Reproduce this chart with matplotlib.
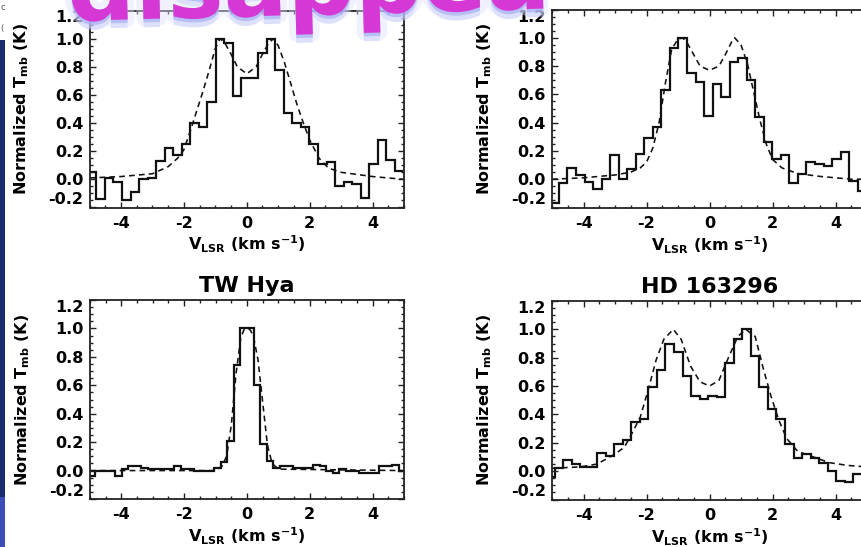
import numpy as np
import matplotlib
matplotlib.use("Agg")
import matplotlib.pyplot as plt
import matplotlib.patheffects as pe
from matplotlib.ticker import MultipleLocator, FormatStrFormatter
from matplotlib.patches import Rectangle

plt.rcParams.update({
    "font.family": ["DejaVu Sans"],
    "font.weight": "bold",
    "axes.unicode_minus": False,
    "mathtext.fontset": "custom",
    "mathtext.rm": "DejaVu Sans:bold",
    "mathtext.it": "DejaVu Sans:bold",
    "mathtext.bf": "DejaVu Sans:bold",
})

# ---------------- spectra (normalized T_mb per velocity channel) ----------------
# upper-left source
ul_first_edge = -5.051
ul_chan_width = 0.271
ul_values = [0.05, -0.14, 0.01, -0.02, -0.15, -0.09, 0.00, 0.01, 0.13, 0.22,
             0.17, 0.25, 0.40, 0.37, 0.55, 1.00, 0.97, 0.59, 0.72, 0.72,
             0.90, 1.00, 0.78, 0.47, 0.40, 0.37, 0.25, 0.11, 0.12, -0.05,
             -0.02, -0.03, -0.13, 0.11, 0.28, 0.14, 0.06]
ul_model_v = [-5.0, -4.0, -3.0, -2.5, -2.2, -2.0, -1.8, -1.6, -1.4, -1.2, -1.0,
              -0.85, -0.7, -0.5, -0.3, 0.0, 0.3, 0.5, 0.7, 0.85, 1.0, 1.2,
              1.4, 1.6, 1.8, 2.0, 2.3, 2.6, 3.0, 4.0, 5.0]
ul_model_t = [0.01, 0.02, 0.04, 0.09, 0.15, 0.21, 0.34, 0.48, 0.62, 0.77, 0.93,
              1.00, 0.97, 0.89, 0.80, 0.75, 0.80, 0.89, 0.97, 1.00, 0.95, 0.83,
              0.68, 0.53, 0.40, 0.28, 0.15, 0.08, 0.05, 0.02, 0.00]

# upper-right source
ur_first_edge = -5.051
ur_chan_width = 0.271
ur_values = [-0.17, -0.03, 0.08, 0.03, -0.02, -0.07, 0.00, 0.17, 0.00, 0.07,
             0.18, 0.29, 0.37, 0.63, 0.93, 1.00, 0.75, 0.69, 0.45, 0.67,
             0.58, 0.83, 0.86, 0.70, 0.44, 0.26, 0.14, 0.17, -0.03, 0.04,
             0.12, 0.11, 0.09, 0.14, 0.19, -0.01, -0.08]
ur_model_v = [-5.0, -4.0, -3.0, -2.5, -2.2, -2.0, -1.8, -1.6, -1.4, -1.2, -1.0,
              -0.85, -0.7, -0.5, -0.3, 0.0, 0.3, 0.5, 0.7, 0.8, 1.0, 1.2,
              1.4, 1.6, 1.8, 2.0, 2.3, 2.8, 3.5, 4.5, 5.0]
ur_model_t = [0.00, 0.01, 0.03, 0.05, 0.08, 0.12, 0.22, 0.40, 0.68, 0.92, 0.99,
              1.00, 0.96, 0.88, 0.80, 0.77, 0.80, 0.88, 0.97, 1.00, 0.95, 0.82,
              0.62, 0.42, 0.25, 0.14, 0.08, 0.04, 0.02, 0.00, 0.00]

# TW Hya
tw_first_edge = -5.04
tw_chan_width = 0.21
tw_values = [-0.04, 0.00, 0.00, 0.00, -0.04, 0.01, 0.03, 0.03, 0.02, 0.01,
             0.01, 0.01, 0.01, 0.03, 0.01, 0.01, 0.00, 0.00, 0.00, 0.02,
             0.06, 0.21, 0.74, 1.00, 1.00, 0.60, 0.19, 0.07, 0.02, 0.03,
             0.03, 0.02, 0.02, 0.02, 0.04, 0.03, 0.00, -0.02, 0.01, 0.00,
             0.00, -0.02, -0.02, -0.02, 0.03, 0.03, 0.04, 0.00]
tw_model_v = [-5.0, -1.0, -0.8, -0.65, -0.5, -0.35, -0.2, -0.1, 0.0, 0.1, 0.2,
              0.35, 0.5, 0.65, 0.8, 1.0, 5.0]
tw_model_t = [0.00, 0.00, 0.03, 0.10, 0.32, 0.68, 0.93, 0.99, 1.00, 0.99, 0.95,
              0.78, 0.48, 0.18, 0.05, 0.01, 0.00]

# HD 163296
hd_first_edge = -5.191
hd_chan_width = 0.271
hd_values = [-0.04, 0.02, 0.08, 0.05, 0.03, 0.03, 0.13, 0.11, 0.19, 0.22,
             0.35, 0.37, 0.59, 0.71, 0.90, 0.84, 0.67, 0.53, 0.51, 0.53,
             0.52, 0.76, 0.93, 1.00, 0.81, 0.59, 0.44, 0.37, 0.19, 0.09,
             0.12, 0.09, 0.06, 0.00, -0.07, -0.08, -0.02]
hd_model_v = [-5.0, -4.1, -3.57, -3.0, -2.7, -2.5, -2.2, -1.95, -1.7, -1.45,
              -1.15, -0.9, -0.6, -0.3, 0.0, 0.3, 0.6, 0.9, 1.15, 1.45, 1.7,
              1.95, 2.2, 2.45, 2.8, 3.3, 3.8, 4.4, 5.0]
hd_model_t = [0.02, 0.03, 0.05, 0.12, 0.17, 0.25, 0.38, 0.57, 0.78, 0.93,
              1.00, 0.93, 0.74, 0.63, 0.60, 0.64, 0.80, 0.95, 1.00, 0.95, 0.73,
              0.53, 0.36, 0.23, 0.14, 0.10, 0.06, 0.04, 0.03]

x_ticks = [-4, -2, 0, 2, 4]
y_ticks = [-0.2, 0.0, 0.2, 0.4, 0.6, 0.8, 1.0, 1.2]

# ---------------- figure ----------------
W, H = 862, 547
fig = plt.figure(figsize=(W / 100, H / 100), dpi=100)
fig.patch.set_facecolor("white")


def add_panel(left, top, right, bottom):
    return fig.add_axes([left / W, 1 - bottom / H, (right - left) / W, (bottom - top) / H])


def draw_spectrum(ax, first_edge, width, values, model_v, model_t, title=None):
    edges = first_edge + width * np.arange(len(values) + 1)
    ax.stairs(values, edges, baseline=None, color="#111111", lw=1.6)
    ax.plot(model_v, model_t, color="#111111", lw=1.15, dashes=(3.6, 2.6))
    ax.set_xlim(-5, 5)
    ax.set_ylim(-0.2, 1.2)
    ax.set_xticks(x_ticks)
    ax.set_yticks(y_ticks)
    ax.xaxis.set_major_formatter(FormatStrFormatter("%d"))
    ax.yaxis.set_major_formatter(FormatStrFormatter("%.1f"))
    ax.xaxis.set_minor_locator(MultipleLocator(0.5))
    ax.yaxis.set_minor_locator(MultipleLocator(0.05))
    ax.tick_params(which="both", direction="in", top=True, right=True,
                   width=1.0, color="#222222")
    ax.tick_params(which="major", length=4)
    ax.tick_params(which="minor", length=2)
    ax.tick_params(axis="x", which="major", pad=6, labelsize=11.5)
    ax.tick_params(axis="y", which="major", pad=4.5, labelsize=11.5)
    for sp in ax.spines.values():
        sp.set_linewidth(1.3)
        sp.set_color("#222222")
    ax.set_xlabel(r"V$_{\rm LSR}$ (km s$^{-1}$)", fontsize=11.5, fontweight="bold")
    ax.set_ylabel(r"Normalized T$_{\rm mb}$ (K)", fontsize=11.5, fontweight="bold")
    ax.xaxis.set_label_coords(0.5, -0.135)
    ax.yaxis.set_label_coords(-0.185, 0.5)
    ticks = ax.yaxis.get_major_ticks()
    ticks[-1].label1.set_verticalalignment("top")
    ticks[0].label1.set_verticalalignment("bottom")
    if title:
        ax.set_title(title, fontsize=16, fontweight="bold", pad=6)


ax_ul = add_panel(89.5, 10.5, 404, 207.5)
ax_ur = add_panel(552, 9.5, 867, 207.5)
ax_tw = add_panel(90, 300, 404, 499)
ax_hd = add_panel(552, 301, 867, 499.5)

draw_spectrum(ax_ul, ul_first_edge, ul_chan_width, ul_values, ul_model_v, ul_model_t)
draw_spectrum(ax_ur, ur_first_edge, ur_chan_width, ur_values, ur_model_v, ur_model_t)
draw_spectrum(ax_tw, tw_first_edge, tw_chan_width, tw_values, tw_model_v, tw_model_t, "TW Hya")
draw_spectrum(ax_hd, hd_first_edge, hd_chan_width, hd_values, hd_model_v, hd_model_t, "HD 163296")

# slide edge on the left
fig.add_artist(Rectangle((0, 0), 5 / W, 1 - 40 / H, transform=fig.transFigure,
                         facecolor="#1b2a6b", edgecolor="none", zorder=5))
fig.add_artist(Rectangle((0, 0), 5 / W, 50 / H, transform=fig.transFigure,
                         facecolor="#3c4cb8", edgecolor="none", zorder=5))
fig.text(0.5 / W, 1 - 8 / H, "c", fontsize=6, color="#555555", va="center", weight="normal")
fig.text(0.5 / W, 1 - 29 / H, "(", fontsize=6, color="#555555", va="center", weight="normal")

# large word-art banner across the top
banner = fig.text(68 / W, 1 - 21 / H, "disappears", fontsize=68, fontweight="bold",
                  family="DejaVu Sans", color="#d538d5", ha="left", va="baseline",
                  rotation=1.5, rotation_mode="anchor", zorder=20)
banner.set_path_effects([
    pe.SimplePatchShadow(offset=(0, -6), shadow_rgbFace="#b3baf7", alpha=0.45),
    pe.Stroke(linewidth=10, foreground="#dfe2fd", alpha=0.45),
    pe.SimplePatchShadow(offset=(0, -2.5), shadow_rgbFace="#9ea8f3", alpha=0.6),
    pe.Normal(),
])
clip = Rectangle((0, 0), 548 / W, 1, transform=fig.transFigure, visible=False)
fig.add_artist(clip)
banner.set_clip_path(clip)

fig.savefig("out.png", dpi=100)
